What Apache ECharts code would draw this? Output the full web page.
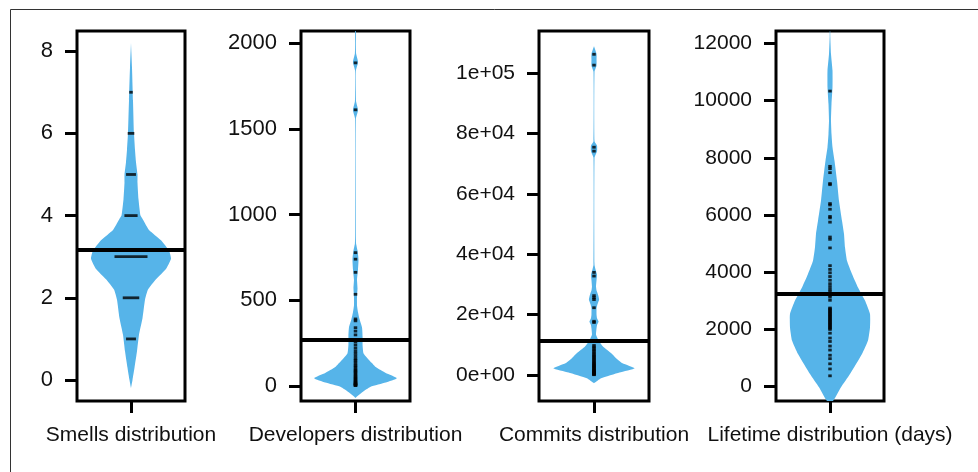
<!DOCTYPE html>
<html>
<head>
<meta charset="utf-8">
<script src="https://cdn.jsdelivr.net/npm/echarts@6/dist/echarts.min.js"></script>
<style>
  html, body { margin: 0; padding: 0; background: #fff; }
  #main { width: 978px; height: 472px; }
</style>
</head>
<body>
<div id="main"></div>
<script>
// panel titles (x axis labels)
var panelNames = ['Smells distribution', 'Developers distribution', 'Commits distribution', 'Lifetime distribution (days)'];

// y axis ticks
var smellsTicks = [0, 2, 4, 6, 8];
var devTicks = [0, 500, 1000, 1500, 2000];
var commitTicks = [0, 20000, 40000, 60000, 80000, 100000];
var commitTickLabels = ['0e+00', '2e+04', '4e+04', '6e+04', '8e+04', '1e+05'];
var lifeTicks = [0, 2000, 4000, 6000, 8000, 10000, 12000];

// bean outlines: y value and half width of the density
var smellsY    = [-0.2, 0, 0.3, 0.7, 1.1, 1.5, 1.95, 2.2, 2.45, 2.7, 2.95, 3.15, 3.4, 3.65, 3.9, 4.0, 4.4, 4.8, 5.0, 5.3, 5.6, 6.0, 6.8, 7.6, 8.2];
var smellsDens = [0, 1.5, 3.5, 6, 8, 11.5, 14, 17, 25, 35, 40, 38, 30, 18, 12, 9.5, 7.5, 6.5, 6.5, 5, 4, 3, 2, 1, 0];

var devY    = [-70, -40, -5, 20, 45, 75, 110, 135, 190, 240, 290, 340, 390, 430, 470, 520, 570, 620, 680, 740, 790, 830, 870, 1560, 1610, 1660, 1700, 1840, 1890, 1940, 1990, 2072];
var devDens = [0, 6, 15, 30, 41, 30, 20, 16, 8, 7, 7, 6.5, 4, 2.5, 1.5, 1.5, 2, 1.5, 2.5, 3, 2, 0.6, 0.4, 0.4, 2.5, 0.6, 0.4, 0.4, 2.5, 0.6, 0.4, 0.4];

var commitY    = [-2760, -1100, 800, 2200, 3900, 5500, 7200, 9400, 11100, 13300, 15500, 16600, 17700, 18800, 20000, 22100, 23500, 24900, 26600, 28000, 29300, 31500, 33200, 35000, 36500, 72000, 74200, 76000, 77500, 100500, 102500, 104500, 106500, 109000];
var commitDens = [0, 7, 25, 40, 28, 22, 17, 9, 5, 2, 2.5, 3, 4.5, 3, 2.5, 2.5, 3.5, 5, 4, 2.5, 2, 2.5, 3, 1.5, 0.5, 0.5, 3, 3, 0.5, 0.5, 2.5, 2.5, 2.5, 0];

var lifeY    = [-500, -23, 440, 1140, 1610, 2070, 2540, 3010, 3470, 3940, 4400, 4870, 5340, 5800, 6500, 7200, 7900, 8370, 8830, 9300, 9880, 10460, 11050, 11630, 12230, 12430];
var lifeDens = [3, 11, 20, 32, 38, 40, 40, 35, 28, 22, 17, 15, 14, 12, 9, 7, 4.5, 2.5, 1.5, 1, 1.5, 2.5, 2.5, 1, 0.3, 0.2];

// observations (bean lines)
var smellsValues = [1, 2, 3, 4, 5, 6, 7];
var smellsCounts = [3, 5, 10, 4, 3, 2, 1];

var devValues = [1886, 1612, 778, 740, 663, 535, 391, 380, 340, 320, 298, 270, 258, 240, 222, 205, 190, 175, 160, 150, 140, 128, 118, 110, 100, 92, 85, 78, 70, 62, 55, 48, 42, 36, 30, 25, 20, 16, 12, 9, 6, 4, 2];

var commitValues = [106300, 102700, 75500, 74200, 34000, 32800, 26300, 25600, 25000, 22300, 17800, 17400,
  9800, 9300, 8800, 8300, 7800, 7300, 6800, 6400, 6000, 5600, 5200, 4800, 4400, 4000, 3700, 3400, 3100, 2800,
  2500, 2200, 1900, 1600, 1400, 1200, 1000, 800, 600, 450, 300, 200, 100];

var lifeValues = [10330, 7700, 7620, 7480, 7100, 7060, 6400, 6350, 6200, 5950, 5900, 5750, 5230, 5150, 4850,
  4230, 4100, 3980, 3850, 3720, 3600, 3500, 3400, 3320, 3200, 3130, 3020, 2750, 2720, 2680, 2640, 2600, 2560,
  2520, 2480, 2440, 2400, 2360, 2320, 2280, 2240, 2200, 2160, 2120, 2080, 2040, 2000, 1870, 1700, 1580, 1420,
  1280, 1100, 980, 800, 620, 380];

// overall means (thick line)
var means = [3.16, 268, 11270, 3260];

var chart = echarts.init(document.getElementById('main'), null, { renderer: 'canvas' });

var FONT = 'Liberation Sans';
var BEAN = '#56B4E9';

var panels = [
  { left: 77,  right: 185, yMin: -0.51, yMax: 8.49,  ticks: smellsTicks, labels: null, beanY: smellsY, beanD: smellsDens, tickFont: 22 },
  { left: 301, right: 410, yMin: -88,   yMax: 2072,  ticks: devTicks,    labels: null, beanY: devY,    beanD: devDens, tickFont: 22 },
  { left: 539, right: 649, yMin: -8620, yMax: 114020, ticks: commitTicks, labels: commitTickLabels, beanY: commitY, beanD: commitDens, tickFont: 21 },
  { left: 776, right: 884, yMin: -500,  yMax: 12430, ticks: lifeTicks,   labels: null, beanY: lifeY,   beanD: lifeDens, tickFont: 21 }
];

var pointData = [
  smellsValues.map(function (v, k) { return [0, v, smellsCounts[k]]; }),
  devValues.map(function (v) { return [0, v, 1]; }),
  commitValues.map(function (v) { return [0, v, 1]; }),
  lifeValues.map(function (v) { return [0, v, 1]; })
];

function beanRenderer(ys, dens) {
  return function (params, api) {
    if (params.dataIndex !== 0) return;
    var right = [], left = [];
    for (var k = 0; k < ys.length; k++) {
      right.push(api.coord([dens[k], ys[k]]));
      left.unshift(api.coord([-dens[k], ys[k]]));
    }
    var cs = params.coordSys;
    return {
      type: 'polygon',
      shape: { points: right.concat(left), smooth: 0.15 },
      style: { fill: BEAN },
      clipPath: { type: 'rect', shape: { x: cs.x, y: cs.y, width: cs.width, height: cs.height } }
    };
  };
}

var grids = [], xAxes = [], yAxes = [], series = [];

panels.forEach(function (p, i) {
  grids.push({
    left: p.left, width: p.right - p.left, top: 31, bottom: 71,
    show: true, borderColor: '#000', borderWidth: 3, backgroundColor: 'transparent'
  });
  xAxes.push({
    gridIndex: i, type: 'value', min: -54, max: 54, position: 'bottom',
    axisLine: { show: false, onZero: false }, splitLine: { show: false },
    axisTick: { show: true, length: 12, customValues: [0], lineStyle: { color: '#000', width: 3 } },
    axisLabel: {
      show: true, customValues: [0], margin: 24, color: '#111', fontSize: 21, fontFamily: FONT,
      formatter: function () { return panelNames[i]; }
    }
  });
  yAxes.push({
    gridIndex: i, type: 'value', min: p.yMin, max: p.yMax, position: 'left',
    axisLine: { show: false, onZero: false }, splitLine: { show: false },
    axisTick: { show: true, length: 12, customValues: p.ticks, lineStyle: { color: '#000', width: 3 } },
    axisLabel: {
      show: true, customValues: p.ticks, margin: 24, color: '#111', fontSize: p.tickFont, fontFamily: FONT,
      formatter: function (v) {
        if (p.labels) return p.labels[p.ticks.indexOf(v)];
        return String(v);
      }
    }
  });
  series.push({
    type: 'custom', xAxisIndex: i, yAxisIndex: i, silent: true,
    renderItem: beanRenderer(p.beanY, p.beanD),
    data: p.beanY.map(function (y, k) { return [p.beanD[k], y]; }),
    encode: { x: 0, y: 1 },
    z: 2
  });
  series.push({
    type: 'scatter', xAxisIndex: i, yAxisIndex: i, silent: true,
    symbol: 'rect',
    symbolSize: function (d) { return i === 0 ? [Math.max(3.5, d[2] * 3.3), 2.8] : [3.5, 2.8]; },
    itemStyle: { color: '#000' },
    data: pointData[i],
    z: 3,
    markLine: {
      silent: true, symbol: ['none', 'none'],
      label: { show: false },
      lineStyle: { color: '#000', width: 4, type: 'solid' },
      data: [{ yAxis: means[i] }]
    }
  });
});

chart.setOption({
  animation: false,
  grid: grids,
  xAxis: xAxes,
  yAxis: yAxes,
  series: series,
  graphic: [{
    type: 'rect', silent: true,
    shape: { x: 10.5, y: 9.5, width: 1000, height: 500 },
    style: { fill: 'none', stroke: '#333', lineWidth: 1 }
  }]
});
</script>
</body>
</html>
